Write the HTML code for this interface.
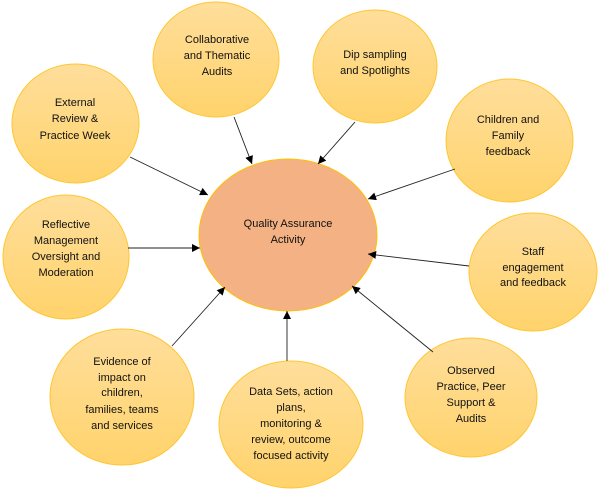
<!DOCTYPE html>
<html>
<head>
<meta charset="utf-8">
<style>
  html, body { margin: 0; padding: 0; background: #ffffff; }
  svg { display: block; }
  text { font-family: "Liberation Sans", "DejaVu Sans", sans-serif; font-size: 11px; fill: #111; text-anchor: middle; }
</style>
</head>
<body>
<svg width="600" height="491" viewBox="0 0 600 491" xmlns="http://www.w3.org/2000/svg">
  <defs>
    <linearGradient id="sat" x1="0" y1="0" x2="0" y2="1">
      <stop offset="0" stop-color="#FFDE9B"/>
      <stop offset="1" stop-color="#FFD36C"/>
    </linearGradient>
    <marker id="ah" viewBox="0 0 10 10" refX="10" refY="5" markerWidth="9" markerHeight="8" markerUnits="userSpaceOnUse" orient="auto">
      <path d="M0,0 L10,5 L0,10 z" fill="#000"/>
    </marker>
  </defs>

  <!-- center -->
  <ellipse cx="288" cy="235" rx="89" ry="76" fill="#F4B183" stroke="#FFC000" stroke-width="1"/>
  <text x="288" y="227">Quality Assurance</text>
  <text x="288" y="243">Activity</text>

  <!-- satellites -->
  <g fill="url(#sat)" stroke="#FFC632" stroke-width="1">
    <ellipse cx="216" cy="59.5" rx="63" ry="57.5"/>
    <ellipse cx="375" cy="66.5" rx="62" ry="56.5"/>
    <ellipse cx="75.5" cy="123.5" rx="63.5" ry="59.5"/>
    <ellipse cx="509.5" cy="140.5" rx="63.5" ry="61.5"/>
    <ellipse cx="66" cy="257" rx="63" ry="62"/>
    <ellipse cx="533" cy="272" rx="64" ry="59"/>
    <ellipse cx="122" cy="397" rx="72" ry="68"/>
    <ellipse cx="291" cy="424.5" rx="72" ry="63.5"/>
    <ellipse cx="471" cy="397.5" rx="66" ry="59.5"/>
  </g>

  <!-- connectors -->
  <g stroke="#222" stroke-width="0.9" fill="none" marker-end="url(#ah)">
    <line x1="130" y1="157" x2="208" y2="195"/>
    <line x1="234" y1="117" x2="252" y2="164"/>
    <line x1="355" y1="122" x2="318" y2="164"/>
    <line x1="455" y1="169" x2="368" y2="199"/>
    <line x1="128" y1="248" x2="200" y2="248"/>
    <line x1="469" y1="266" x2="368" y2="254"/>
    <line x1="172" y1="346" x2="225" y2="287"/>
    <line x1="287" y1="361" x2="287" y2="311"/>
    <line x1="433" y1="352" x2="352" y2="286"/>
  </g>

  <!-- labels -->
  <text x="217" y="43">Collaborative</text>
  <text x="217" y="59">and Thematic</text>
  <text x="217" y="75">Audits</text>

  <text x="375" y="58">Dip sampling</text>
  <text x="375" y="74">and Spotlights</text>

  <text x="75" y="106">External</text>
  <text x="75" y="122">Review &amp;</text>
  <text x="75" y="139">Practice Week</text>

  <text x="508" y="123">Children and</text>
  <text x="508" y="139">Family</text>
  <text x="508" y="155">feedback</text>

  <text x="66" y="228">Reflective</text>
  <text x="66" y="244">Management</text>
  <text x="66" y="260">Oversight and</text>
  <text x="66" y="276">Moderation</text>

  <text x="533" y="255">Staff</text>
  <text x="533" y="271">engagement</text>
  <text x="533" y="286">and feedback</text>

  <text x="122" y="365">Evidence of</text>
  <text x="122" y="381">impact on</text>
  <text x="122" y="396">children,</text>
  <text x="122" y="413">families, teams</text>
  <text x="122" y="429">and services</text>

  <text x="291" y="395">Data Sets, action</text>
  <text x="291" y="411">plans,</text>
  <text x="291" y="427">monitoring &amp;</text>
  <text x="291" y="443">review, outcome</text>
  <text x="291" y="459">focused activity</text>

  <text x="471" y="374">Observed</text>
  <text x="471" y="390">Practice, Peer</text>
  <text x="471" y="406">Support &amp;</text>
  <text x="471" y="422">Audits</text>
</svg>
</body>
</html>
